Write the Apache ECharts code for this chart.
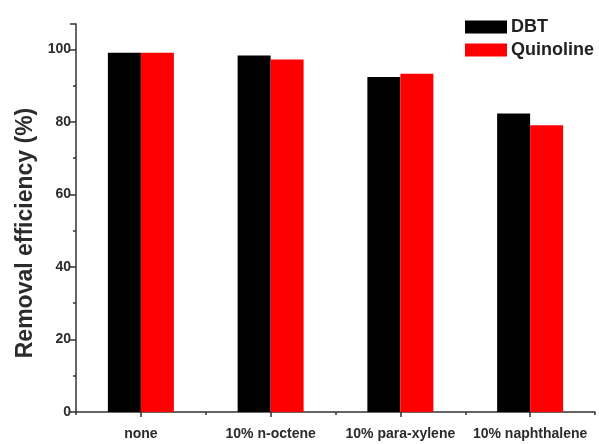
<!DOCTYPE html>
<html>
<head>
<meta charset="utf-8">
<script src="https://cdn.jsdelivr.net/npm/echarts@6/dist/echarts.min.js"></script>
<style>html,body{margin:0;padding:0;background:#fff;}#c{width:599px;height:444px;}</style>
</head>
<body>
<div id="c"></div>
<script>
var categories = ['none', '10% n-octene', '10% para-xylene', '10% naphthalene'];
var seriesNames = ['DBT', 'Quinoline'];
var dbtValues = [99.1, 98.3, 92.4, 82.3];
var quinolineValues = [99.1, 97.2, 93.3, 79.1];
var yTicks = [0, 20, 40, 60, 80, 100];

var chart = echarts.init(document.getElementById('c'));
var axisColor = '#333';
var font = 'Liberation Sans, Arial, sans-serif';
chart.setOption({
  backgroundColor: '#fff',
  animation: false,
  grid: { left: 76, right: 4, top: 24, bottom: 32, containLabel: false },
  legend: {
    orient: 'vertical',
    left: 460, top: 13,
    itemWidth: 42, itemHeight: 13, itemGap: 5,
    icon: 'rect',
    textStyle: { fontFamily: font, fontWeight: 'bold', fontSize: 18, color: '#222', padding: [0, 0, 0, -1] },
    data: seriesNames
  },
  xAxis: [{
    type: 'category',
    data: categories,
    position: 'bottom',
    axisLine: { show: true, lineStyle: { color: axisColor, width: 1.5 } },
    axisTick: { show: true, alignWithLabel: true, length: 5, lineStyle: { color: axisColor, width: 1.5 } },
    axisLabel: { interval: 0, margin: 15, fontFamily: font, fontWeight: 'bold', fontSize: 14, color: '#2b2b2b' }
  }, {
    type: 'category',
    data: categories,
    position: 'bottom',
    axisLine: { show: false },
    axisTick: { show: true, length: 3, lineStyle: { color: axisColor, width: 1.5 } },
    axisLabel: { show: false }
  }],
  yAxis: {
    type: 'value',
    min: 0, max: 107, interval: 20,
    name: 'Removal efficiency (%)',
    nameLocation: 'middle',
    nameGap: 39,
    nameTextStyle: { fontFamily: font, fontWeight: 'bold', fontSize: 23, color: '#2b2b2b', padding: [0, 30, 0, 0] },
    axisLine: { show: true, lineStyle: { color: axisColor, width: 1.5 } },
    axisTick: { show: true, length: 6, lineStyle: { color: axisColor, width: 1.5 } },
    minorTick: { show: true, splitNumber: 2, length: 3, lineStyle: { color: axisColor, width: 1.5 } },
    splitLine: { show: false },
    axisLabel: {
      margin: 5, fontFamily: font, fontWeight: 'bold', fontSize: 14, color: '#2b2b2b',
      showMaxLabel: false,
      formatter: function (v) { return yTicks.indexOf(v) >= 0 ? String(v) : ''; }
    }
  },
  series: [{
    name: seriesNames[0], type: 'bar', data: dbtValues, barWidth: 33, barGap: '0%',
    itemStyle: { color: '#000000' }
  }, {
    name: seriesNames[1], type: 'bar', data: quinolineValues, barWidth: 33, barGap: '0%',
    itemStyle: { color: '#ff0000' }
  }]
});
</script>
</body>
</html>
